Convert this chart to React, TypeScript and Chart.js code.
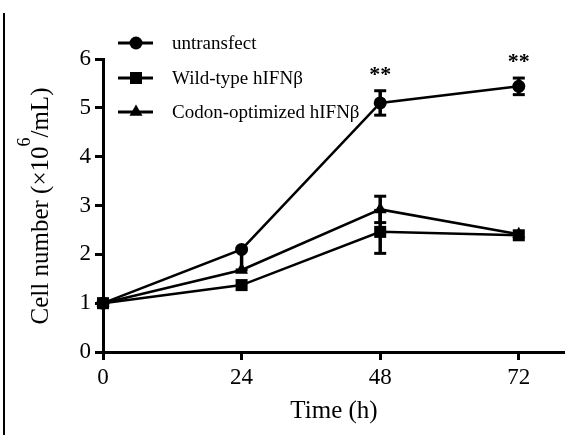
import React, { useEffect, useRef } from "react";
import { Chart, registerables } from "chart.js";

Chart.register(...registerables);

const timePoints = [0, 24, 48, 72];
const xTickValues = [0, 24, 48, 72];
const yTickValues = [0, 1, 2, 3, 4, 5, 6];

const seriesLabels = ["untransfect", "Wild-type hIFNβ", "Codon-optimized hIFNβ"];
const seriesMarkers = ["circle", "rect", "triangle"];

const untransfectValues = [1.0, 2.1, 5.1, 5.44];
const wildTypeValues = [1.0, 1.37, 2.46, 2.39];
const codonOptValues = [1.0, 1.68, 2.92, 2.41];

const untransfectErrLow = [0, 0.42, 0.25, 0.17];
const untransfectErrHigh = [0, 0, 0.25, 0.17];
const wildTypeErrLow = [0, 0, 0.44, 0];
const wildTypeErrHigh = [0, 0, 0.44, 0];
const codonOptErrLow = [0, 0, 0.27, 0];
const codonOptErrHigh = [0, 0, 0.27, 0];

const significance = ["", "", "**", "**"];

const xTitle = "Time (h)";
const yTitleParts = ["Cell number (×10", "6", "/mL)"];

const FONT = "'Liberation Serif', 'Times New Roman', serif";

export default function App() {
  const canvasRef = useRef<HTMLCanvasElement | null>(null);

  useEffect(() => {
    const canvas = canvasRef.current;
    if (!canvas) return;

    const valuesList = [untransfectValues, wildTypeValues, codonOptValues];
    const errLowList = [untransfectErrLow, wildTypeErrLow, codonOptErrLow];
    const errHighList = [untransfectErrHigh, wildTypeErrHigh, codonOptErrHigh];
    const radii = [6.5, 8.5, 7.5];

    const datasets = valuesList.map((vals, i) => ({
      label: seriesLabels[i],
      data: timePoints.map((t, j) => ({ x: t, y: vals[j] })),
      borderColor: "#000",
      backgroundColor: "#000",
      borderWidth: 2.5,
      pointStyle: seriesMarkers[i] as any,
      pointRadius: radii[i],
      pointHoverRadius: radii[i],
      pointBorderWidth: 0,
      pointBackgroundColor: "#000",
      tension: 0,
      clip: false as any,
    }));

    const decorPlugin = {
      id: "decor",
      beforeDraw(chart: any) {
        const ctx = chart.ctx;
        ctx.save();
        ctx.fillStyle = "#fff";
        ctx.fillRect(0, 0, chart.width, chart.height);
        ctx.strokeStyle = "#000";
        ctx.lineWidth = 2;
        ctx.beginPath();
        ctx.moveTo(4, 13);
        ctx.lineTo(4, 435);
        ctx.stroke();
        ctx.restore();
      },
      afterDatasetsDraw(chart: any) {
        const ctx = chart.ctx;
        const xs = chart.scales.x;
        const ys = chart.scales.y;
        ctx.save();
        ctx.strokeStyle = "#000";
        ctx.lineCap = "butt";
        valuesList.forEach((vals, i) => {
          vals.forEach((v, j) => {
            const lo = errLowList[i][j];
            const hi = errHighList[i][j];
            if (!lo && !hi) return;
            const px = xs.getPixelForValue(timePoints[j]);
            const pTop = ys.getPixelForValue(v + hi);
            const pBot = ys.getPixelForValue(v - lo);
            ctx.lineWidth = 3.5;
            ctx.beginPath();
            ctx.moveTo(px, pTop);
            ctx.lineTo(px, pBot);
            ctx.stroke();
            ctx.lineWidth = 3;
            if (hi) {
              ctx.beginPath();
              ctx.moveTo(px - 6, pTop);
              ctx.lineTo(px + 6, pTop);
              ctx.stroke();
            }
            if (lo) {
              ctx.beginPath();
              ctx.moveTo(px - 6, pBot);
              ctx.lineTo(px + 6, pBot);
              ctx.stroke();
            }
          });
        });
        ctx.fillStyle = "#000";
        ctx.font = `bold 22px ${FONT}`;
        ctx.textAlign = "center";
        ctx.textBaseline = "alphabetic";
        significance.forEach((s, j) => {
          if (!s) return;
          const px = xs.getPixelForValue(timePoints[j]);
          const py = ys.getPixelForValue(untransfectValues[j] + untransfectErrHigh[j]);
          ctx.fillText(s, px, py - 10);
        });
        ctx.restore();
      },
      afterDraw(chart: any) {
        const ctx = chart.ctx;
        ctx.save();
        ctx.fillStyle = "#000";
        ctx.strokeStyle = "#000";
        const rows = [43, 78, 112];
        chart.data.datasets.forEach((ds: any, i: number) => {
          const y = rows[i];
          ctx.lineWidth = 3;
          ctx.beginPath();
          ctx.moveTo(118, y);
          ctx.lineTo(153, y);
          ctx.stroke();
          const r = ds.pointRadius;
          ctx.beginPath();
          if (ds.pointStyle === "circle") {
            ctx.arc(136, y, r, 0, Math.PI * 2);
          } else if (ds.pointStyle === "rect") {
            const s = r * Math.SQRT1_2;
            ctx.rect(136 - s, y - s, 2 * s, 2 * s);
          } else {
            const w = (r * Math.sqrt(3)) / 2;
            ctx.moveTo(136, y - r);
            ctx.lineTo(136 + w, y + r / 2);
            ctx.lineTo(136 - w, y + r / 2);
            ctx.closePath();
          }
          ctx.fill();
          ctx.font = `19px ${FONT}`;
          ctx.textAlign = "left";
          ctx.textBaseline = "middle";
          ctx.fillText(ds.label, 172, y + 1);
        });
        ctx.translate(40, 206);
        ctx.rotate(-Math.PI / 2);
        const mainFont = `25px ${FONT}`;
        const supFont = `18px ${FONT}`;
        ctx.font = mainFont;
        const w1 = ctx.measureText(yTitleParts[0]).width;
        const w3 = ctx.measureText(yTitleParts[2]).width;
        ctx.font = supFont;
        const w2 = ctx.measureText(yTitleParts[1]).width;
        const total = w1 + w2 + w3;
        let x0 = -total / 2;
        ctx.textAlign = "left";
        ctx.textBaseline = "alphabetic";
        ctx.font = mainFont;
        ctx.fillText(yTitleParts[0], x0, 8);
        x0 += w1;
        ctx.font = supFont;
        ctx.fillText(yTitleParts[1], x0, -10);
        x0 += w2;
        ctx.font = mainFont;
        ctx.fillText(yTitleParts[2], x0, 8);
        ctx.restore();
      },
    };

    const chart = new Chart(canvas, {
      type: "line",
      data: { datasets: datasets as any },
      options: {
        animation: false,
        responsive: false,
        maintainAspectRatio: false,
        devicePixelRatio: 1,
        layout: { autoPadding: false, padding: { left: 0, right: 0, top: 59, bottom: 0 } },
        plugins: {
          legend: { display: false },
          tooltip: { enabled: false },
        },
        scales: {
          x: {
            type: "linear",
            min: 0,
            max: 80,
            afterFit(scale: any) {
              scale.height = 87;
              scale.paddingRight = 0;
              scale.paddingLeft = 0;
            },
            afterBuildTicks(scale: any) {
              scale.ticks = xTickValues.map((v) => ({ value: v }));
            },
            border: { display: true, color: "#000", width: 3 },
            grid: {
              display: true,
              drawOnChartArea: false,
              drawTicks: true,
              tickLength: 8,
              tickWidth: 3,
              tickColor: "#000",
            },
            ticks: {
              color: "#000",
              font: { family: FONT, size: 23 },
              padding: 4,
              maxRotation: 0,
            },
            title: {
              display: true,
              text: xTitle,
              color: "#000",
              font: { family: FONT, size: 25 },
              padding: { top: 0, bottom: 13 },
            },
          },
          y: {
            type: "linear",
            min: 0,
            max: 6,
            afterFit(scale: any) {
              scale.width = 103;
              scale.paddingTop = 0;
              scale.paddingBottom = 0;
            },
            afterBuildTicks(scale: any) {
              scale.ticks = yTickValues.map((v) => ({ value: v }));
            },
            border: { display: true, color: "#000", width: 3 },
            grid: {
              display: true,
              drawOnChartArea: false,
              drawTicks: true,
              tickLength: 8,
              tickWidth: 3,
              tickColor: "#000",
            },
            ticks: {
              color: "#000",
              font: { family: FONT, size: 23 },
              padding: 4,
            },
          },
        },
      },
      plugins: [decorPlugin],
    });

    return () => chart.destroy();
  }, []);

  return (
    <div style={{ position: "absolute", left: 0, top: 0, width: 565, height: 439, background: "#fff" }}>
      <canvas ref={canvasRef} width={565} height={439} style={{ width: 565, height: 439, display: "block" }} />
    </div>
  );
}
